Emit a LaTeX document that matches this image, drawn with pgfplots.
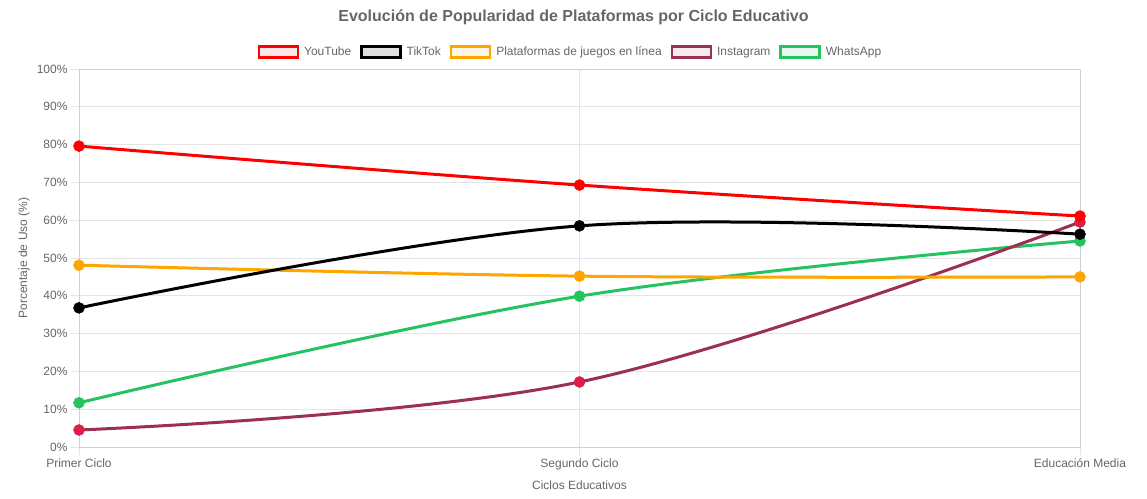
\documentclass[border=0pt]{standalone}
\usepackage{pgfplots}
\pgfplotsset{compat=1.18}
\usepackage{fontspec}
\setmainfont{Liberation Sans}
\definecolor{txt}{HTML}{666666}
\definecolor{yt}{HTML}{FF0000}
\definecolor{tt}{HTML}{000000}
\definecolor{pj}{HTML}{FFA500}
\definecolor{ig}{HTML}{9B3050}
\definecolor{igm}{HTML}{DC1E4B}
\definecolor{wa}{HTML}{25C35F}
\begin{document}
\begin{tikzpicture}
\useasboundingbox (0,0) rectangle (1147bp,499bp);
\node[font=\bfseries\fontsize{16bp}{19bp}\selectfont, text=txt] at (573.5bp,482bp) {Evolución de Popularidad de Plataformas por Ciclo Educativo};
\node[rotate=90, font=\fontsize{12bp}{14bp}\selectfont, text=txt] at (24bp,241bp) {Porcentaje de Uso (\%)};
\node[font=\fontsize{12bp}{14bp}\selectfont, text=txt] at (579.5bp,14bp) {Ciclos Educativos};
\begin{axis}[
  at={(79bp,52bp)}, anchor=south west, scale only axis,
  width=1001bp, height=378bp,
  xmin=0, xmax=2, ymin=0, ymax=100,
  xtick={0,1,2}, xticklabels={Primer Ciclo, Segundo Ciclo, Educación Media},
  ytick={0,10,...,100},
  yticklabel={\pgfmathprintnumber{\tick}\%},
  grid=major, grid style={draw=black!10, line width=0.8bp},
  axis line style={draw=black!18, line width=0.8bp},
  tick align=outside, major tick length=8bp,
  xtick pos=bottom, ytick pos=left,
  tick style={draw=black!10, line width=0.8bp},
  ticklabel style={font=\fontsize{12bp}{14bp}\selectfont, text=txt},
  /pgf/number format/assume math mode=true,
  legend style={at={(0.5,1)}, anchor=center, xshift=-9bp, yshift=17bp,
    draw=none, fill=none, legend columns=5,
    font=\fontsize{12bp}{14bp}\selectfont, text=txt,
    /tikz/every even column/.append style={column sep=7bp},
    nodes={inner sep=2bp}},
  legend cell align=left,
]
\addlegendimage{legend image code/.code={\draw[line width=2.4bp, draw=yt, fill=yt!10] (0bp,-5.5bp) rectangle (39bp,5.5bp); \path (43bp,0bp);}}
\addlegendentry{YouTube}
\addlegendimage{legend image code/.code={\draw[line width=2.4bp, draw=tt, fill=black!12] (0bp,-5.5bp) rectangle (39bp,5.5bp); \path (43bp,0bp);}}
\addlegendentry{TikTok}
\addlegendimage{legend image code/.code={\draw[line width=2.4bp, draw=pj, fill=pj!10] (0bp,-5.5bp) rectangle (39bp,5.5bp); \path (43bp,0bp);}}
\addlegendentry{Plataformas de juegos en línea}
\addlegendimage{legend image code/.code={\draw[line width=2.4bp, draw=ig, fill=ig!10] (0bp,-5.5bp) rectangle (39bp,5.5bp); \path (43bp,0bp);}}
\addlegendentry{Instagram}
\addlegendimage{legend image code/.code={\draw[line width=2.4bp, draw=wa, fill=wa!10] (0bp,-5.5bp) rectangle (39bp,5.5bp); \path (43bp,0bp);}}
\addlegendentry{WhatsApp}

\addplot[wa, line width=3bp, smooth, tension=0.6, mark=*, mark size=5.5bp, mark options={line width=0.5bp}, forget plot]
  coordinates {(0,11.7) (1,39.9) (2,54.5)};
\addplot[ig, line width=3bp, smooth, tension=0.6, mark=*, mark size=5.5bp, mark options={line width=0.5bp, fill=igm, draw=igm}, forget plot]
  coordinates {(0,4.5) (1,17.2) (2,59.5)};
\addplot[pj, line width=3bp, smooth, tension=0.6, mark=*, mark size=5.5bp, mark options={line width=0.5bp}, forget plot]
  coordinates {(0,48.1) (1,45.2) (2,45.0)};
\addplot[tt, line width=3bp, smooth, tension=0.6, mark=*, mark size=5.5bp, mark options={line width=0.5bp}, forget plot]
  coordinates {(0,36.8) (1,58.5) (2,56.3)};
\addplot[yt, line width=3bp, smooth, tension=0.6, mark=*, mark size=5.5bp, mark options={line width=0.5bp}, forget plot]
  coordinates {(0,79.6) (1,69.3) (2,61.1)};
\end{axis}
\end{tikzpicture}
\end{document}
